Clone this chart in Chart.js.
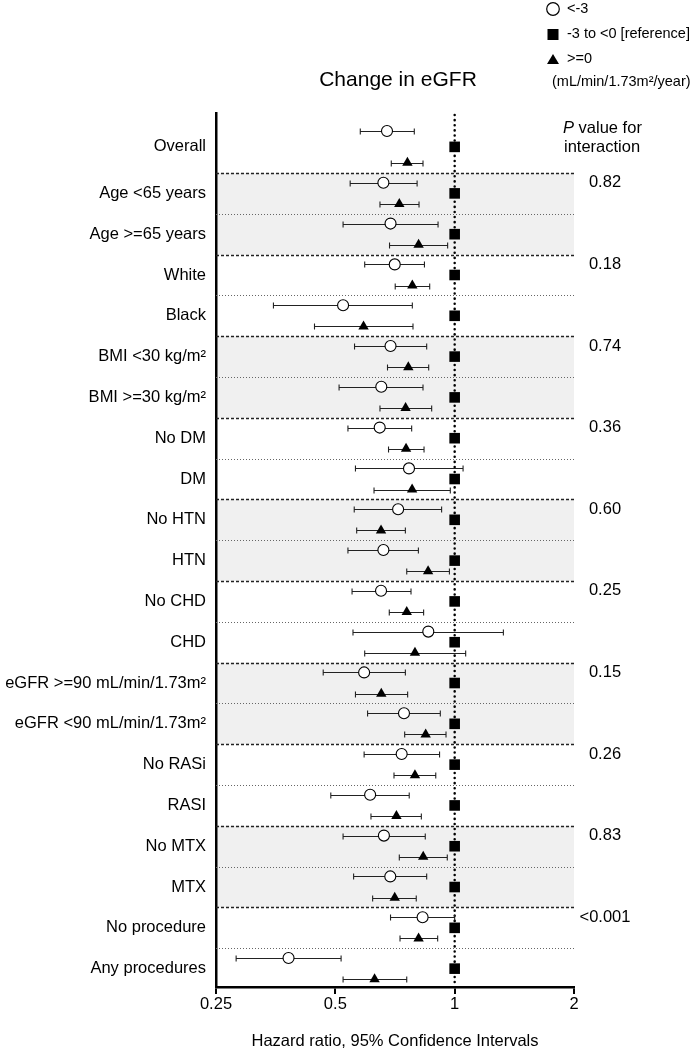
<!DOCTYPE html>
<html>
<head>
<meta charset="utf-8">
<script src="https://cdn.jsdelivr.net/npm/chart.js@4/dist/chart.umd.min.js"></script>
<style>
  html, body { margin: 0; padding: 0; background: #fff; }
</style>
</head>
<body>
<canvas id="forest" width="693" height="1050"></canvas>
<script>
const subgroups = ['Overall', 'Age <65 years', 'Age >=65 years', 'White', 'Black',
    'BMI <30 kg/m\u00B2', 'BMI >=30 kg/m\u00B2', 'No DM', 'DM', 'No HTN', 'HTN',
    'No CHD', 'CHD', 'eGFR >=90 mL/min/1.73m\u00B2', 'eGFR <90 mL/min/1.73m\u00B2',
    'No RASi', 'RASI', 'No MTX', 'MTX', 'No procedure', 'Any procedures'];

// <-3 group (open circle)
const declineHR = [0.675, 0.661, 0.689, 0.706, 0.523, 0.689, 0.653, 0.647, 0.767, 0.720, 0.661,
    0.652, 0.858, 0.591, 0.745, 0.735, 0.612, 0.663, 0.688, 0.830, 0.381];
const declineLo = [0.578, 0.545, 0.523, 0.593, 0.349, 0.559, 0.511, 0.538, 0.562, 0.558, 0.538,
    0.551, 0.554, 0.466, 0.603, 0.591, 0.487, 0.523, 0.556, 0.689, 0.281];
const declineHi = [0.791, 0.804, 0.908, 0.839, 0.782, 0.850, 0.832, 0.779, 1.050, 0.927, 0.810,
    0.776, 1.327, 0.751, 0.920, 0.916, 0.768, 0.843, 0.850, 1.000, 0.517];

// -3 to <0 reference group (square)
const referenceHR = [1, 1, 1, 1, 1, 1, 1, 1, 1, 1, 1, 1, 1, 1, 1, 1, 1, 1, 1, 1, 1];

// >=0 group (triangle)
const gainHR = [0.760, 0.725, 0.811, 0.782, 0.589, 0.764, 0.752, 0.754, 0.781, 0.652, 0.857,
    0.757, 0.794, 0.653, 0.845, 0.794, 0.713, 0.833, 0.706, 0.811, 0.628];
const gainLo = [0.692, 0.648, 0.685, 0.708, 0.443, 0.677, 0.648, 0.681, 0.626, 0.566, 0.757,
    0.684, 0.593, 0.562, 0.748, 0.703, 0.615, 0.725, 0.621, 0.728, 0.523];
const gainHi = [0.832, 0.813, 0.960, 0.865, 0.785, 0.860, 0.875, 0.837, 0.975, 0.751, 0.970,
    0.835, 1.066, 0.761, 0.951, 0.896, 0.824, 0.958, 0.800, 0.906, 0.757];

const pValues = ['0.82', '0.18', '0.74', '0.36', '0.60', '0.25', '0.15', '0.26', '0.83', '<0.001'];
const xTicks = [0.25, 0.5, 1, 2];

const FONT = '"Liberation Sans", Arial, sans-serif';

// row slots on the y axis; Overall sits a bit higher with a wider spread
const rowPos = subgroups.map((s, i) => i === 0 ? -0.14 : i);
const rowSpread = subgroups.map((s, i) => i === 0 ? 0.39 : 0.26);

const toPoints = (vals, dir) => vals.map((v, i) => ({ x: v, y: rowPos[i] + dir * rowSpread[i] }));

const forestPlugin = {
    id: 'forest',
    beforeDraw(chart) {
        const { ctx, chartArea: a, scales: { y } } = chart;
        ctx.save();
        ctx.fillStyle = '#f0f0f0';
        for (let g = 0; g < pValues.length; g += 2) {
            const first = 1 + g * 2;
            const top = y.getPixelForValue(first - 0.5);
            const bot = y.getPixelForValue(first + 1.5);
            ctx.fillRect(a.left, top, a.right - a.left, bot - top);
        }
        ctx.restore();
    },
    beforeDatasetsDraw(chart) {
        const { ctx, chartArea: a, scales: { x, y } } = chart;
        ctx.save();
        // separators
        for (let r = 0; r < subgroups.length - 1; r++) {
            const py = Math.round(y.getPixelForValue(r + 0.5)) + 0.5;
            const between = r % 2 === 0;
            ctx.beginPath();
            ctx.strokeStyle = between ? '#222' : '#666';
            ctx.lineWidth = between ? 1.3 : 1;
            ctx.setLineDash(between ? [3, 2] : [1, 2]);
            ctx.moveTo(a.left, py);
            ctx.lineTo(a.right, py);
            ctx.stroke();
        }
        // reference line at HR = 1
        const x1 = x.getPixelForValue(1);
        ctx.beginPath();
        ctx.strokeStyle = '#000';
        ctx.lineWidth = 2.5;
        ctx.lineCap = 'round';
        ctx.setLineDash([0.1, 5]);
        ctx.moveTo(x1, a.top + 2);
        ctx.lineTo(x1, a.bottom);
        ctx.stroke();
        ctx.setLineDash([]);
        ctx.lineCap = 'butt';
        // error bars
        chart.data.datasets.forEach(ds => {
            if (!ds.errLo) return;
            ctx.strokeStyle = '#222';
            ctx.lineWidth = 1.1;
            ds.data.forEach((p, i) => {
                const py = Math.round(y.getPixelForValue(p.y)) + 0.5;
                const lo = x.getPixelForValue(ds.errLo[i]);
                const hi = x.getPixelForValue(ds.errHi[i]);
                ctx.beginPath();
                ctx.moveTo(lo, py); ctx.lineTo(hi, py);
                ctx.moveTo(lo, py - 3); ctx.lineTo(lo, py + 3);
                ctx.moveTo(hi, py - 3); ctx.lineTo(hi, py + 3);
                ctx.stroke();
            });
        });
        ctx.restore();
    },
    afterDraw(chart) {
        const { ctx, scales: { y } } = chart;
        ctx.save();
        ctx.fillStyle = '#000';
        ctx.textBaseline = 'middle';

        ctx.font = '21px ' + FONT;
        ctx.textAlign = 'center';
        ctx.fillText('Change in eGFR', 398, 80);

        // legend
        const lx = 553;
        ctx.lineWidth = 1.2;
        ctx.strokeStyle = '#000';
        ctx.fillStyle = '#fff';
        ctx.beginPath(); ctx.arc(lx, 9, 6.3, 0, Math.PI * 2); ctx.fill(); ctx.stroke();
        ctx.fillStyle = '#000';
        ctx.fillRect(lx - 5.5, 29, 11, 11);
        ctx.beginPath(); ctx.moveTo(lx, 54); ctx.lineTo(lx + 6, 64); ctx.lineTo(lx - 6, 64); ctx.closePath(); ctx.fill();
        ctx.textAlign = 'left';
        ctx.font = '14.5px ' + FONT;
        ctx.fillText('<-3', 567, 9);
        ctx.fillText('-3 to <0 [reference]', 567, 34);
        ctx.fillText('>=0', 567, 59);
        ctx.fillText('(mL/min/1.73m\u00B2/year)', 552, 82);

        // p value header
        ctx.font = 'italic 16.5px ' + FONT;
        ctx.fillText('P', 563, 128);
        const pw = ctx.measureText('P').width;
        ctx.font = '16.5px ' + FONT;
        ctx.fillText(' value for', 563 + pw, 128);
        ctx.fillText('interaction', 564, 147);

        ctx.textAlign = 'center';
        pValues.forEach((p, g) => {
            const first = 1 + g * 2;
            ctx.fillText(p, 605, y.getPixelForValue(first - rowSpread[first]));
        });
        ctx.restore();
    }
};

new Chart(document.getElementById('forest').getContext('2d'), {
    type: 'scatter',
    data: {
        datasets: [{
            label: '<-3',
            data: toPoints(declineHR, -1),
            errLo: declineLo,
            errHi: declineHi,
            pointStyle: 'circle',
            pointRadius: 5.5,
            pointHoverRadius: 5.5,
            backgroundColor: '#fff',
            borderColor: '#000',
            borderWidth: 1.1
        }, {
            label: '-3 to <0 [reference]',
            data: toPoints(referenceHR, 0),
            pointStyle: 'rect',
            pointRadius: 7.5,
            pointHoverRadius: 7.5,
            backgroundColor: '#000',
            borderColor: '#000',
            borderWidth: 0
        }, {
            label: '>=0',
            data: toPoints(gainHR, 1),
            errLo: gainLo,
            errHi: gainHi,
            pointStyle: 'triangle',
            pointRadius: 6,
            pointHoverRadius: 6,
            backgroundColor: '#000',
            borderColor: '#000',
            borderWidth: 0
        }]
    },
    options: {
        responsive: false,
        animation: false,
        devicePixelRatio: 1,
        layout: { padding: { top: 113, right: 119, left: 0, bottom: 0 } },
        plugins: { legend: { display: false }, tooltip: { enabled: false } },
        scales: {
            x: {
                type: 'logarithmic',
                min: 0.25,
                max: 2,
                afterBuildTicks: s => { s.ticks = xTicks.map(v => ({ value: v })); },
                afterFit: s => { s.height = 63; },
                ticks: {
                    autoSkip: false,
                    maxRotation: 0,
                    padding: 1,
                    color: '#000',
                    font: { size: 16.5, family: FONT },
                    callback: v => String(v)
                },
                grid: { drawOnChartArea: false, drawTicks: true, tickLength: 7, color: '#000', lineWidth: 2 },
                border: { color: '#000', width: 2.5 },
                title: {
                    display: true,
                    text: 'Hazard ratio, 95% Confidence Intervals',
                    color: '#000',
                    font: { size: 16.5, family: FONT, lineHeight: 1 },
                    padding: { top: 0, bottom: 0 }
                }
            },
            y: {
                type: 'linear',
                reverse: true,
                min: -0.97,
                max: 20.45,
                afterBuildTicks: s => { s.ticks = rowPos.map(v => ({ value: v })); },
                afterFit: s => { s.width = 216; },
                ticks: {
                    autoSkip: false,
                    padding: 10,
                    color: '#000',
                    font: { size: 16.5, family: FONT },
                    callback: (v, i) => subgroups[i]
                },
                grid: { display: false, drawTicks: false },
                border: { display: true, color: '#000', width: 2.5 }
            }
        }
    },
    plugins: [forestPlugin]
});
</script>
</body>
</html>
